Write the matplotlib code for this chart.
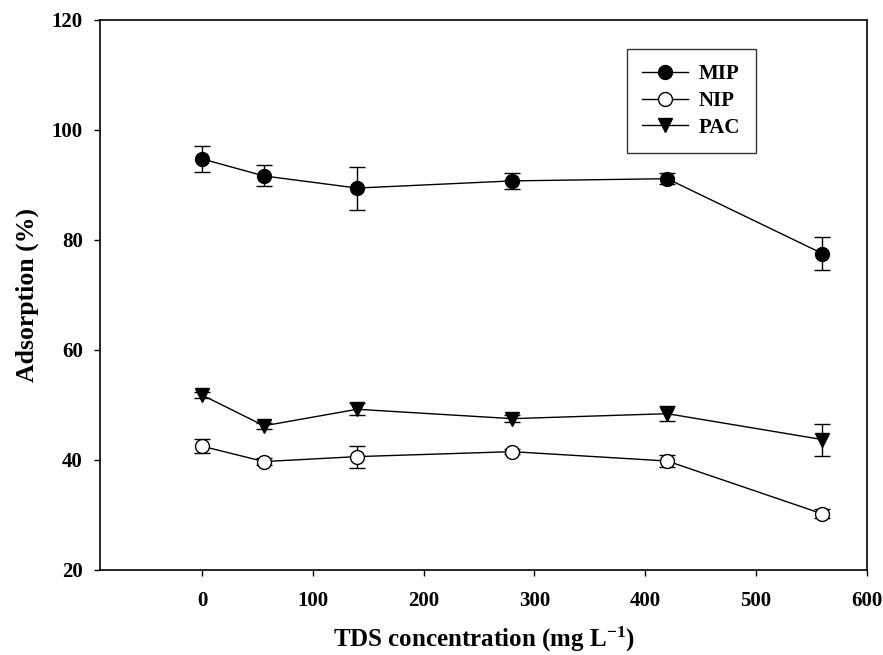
import matplotlib.pyplot as plt
from matplotlib.lines import Line2D

plt.rcParams['font.family'] = ['Liberation Serif', 'DejaVu Serif']
plt.rcParams['font.weight'] = 'bold'
plt.rcParams['mathtext.fontset'] = 'custom'
plt.rcParams['mathtext.rm'] = 'Liberation Serif:bold'
plt.rcParams['mathtext.bf'] = 'Liberation Serif:bold'
plt.rcParams['mathtext.default'] = 'bf'

tds = [0, 56, 140, 280, 420, 560]

mip = [94.7, 91.6, 89.4, 90.7, 91.1, 77.5]
mip_err = [2.3, 1.9, 3.9, 1.4, 1.0, 3.0]

nip = [42.5, 39.7, 40.6, 41.5, 39.8, 30.2]
nip_err = [1.3, 0.6, 2.0, 0.5, 1.1, 0.8]

pac = [51.8, 46.2, 49.2, 47.5, 48.4, 43.7]
pac_err = [0.5, 0.5, 1.1, 0.6, 1.4, 2.9]

fig = plt.figure(figsize=(8.83, 6.55), dpi=100)
ax = fig.add_axes([0.1133, 0.1298, 0.8682, 0.8402])

common = dict(color='black', lw=1.0, ecolor='black', elinewidth=1.0,
              capsize=6, capthick=1.0, markersize=10)
ax.errorbar(tds, mip, yerr=mip_err, fmt='-o', mfc='black', mec='black', **common)
ax.errorbar(tds, nip, yerr=nip_err, fmt='-o', mfc='white', mec='black', **common)
ax.errorbar(tds, pac, yerr=pac_err, fmt='-v', mfc='black', mec='black', **common)

ax.set_xlim(-92, 600)
ax.set_ylim(20, 120)
ax.set_xticks([0, 100, 200, 300, 400, 500, 600])
ax.set_yticks([20, 40, 60, 80, 100, 120])
ax.tick_params(direction='out', length=4, width=1, labelsize=15)
ax.tick_params(axis='x', pad=11)
ax.tick_params(axis='y', pad=8.5)
for s in ax.spines.values():
    s.set_linewidth(1.2)

ax.set_xlabel('TDS concentration (mg L$^{-1}$)', fontsize=18, fontweight='bold', labelpad=10)
ax.set_ylabel('Adsorption (%)', fontsize=18.5, fontweight='bold', labelpad=9)

handles = [
    Line2D([], [], color='black', lw=1.0, marker='o', mfc='black', mec='black', markersize=10),
    Line2D([], [], color='black', lw=1.0, marker='o', mfc='white', mec='black', markersize=10),
    Line2D([], [], color='black', lw=1.0, marker='v', mfc='black', mec='black', markersize=10),
]
leg = ax.legend(handles, ['MIP', 'NIP', 'PAC'], loc='upper left',
                bbox_to_anchor=(0.687, 0.947), fontsize=15,
                frameon=True, fancybox=False, edgecolor='black', borderpad=0.75,
                handlelength=2.2, handletextpad=0.5, labelspacing=0.32, borderaxespad=0)
leg.get_frame().set_linewidth(1.0)

fig.savefig('out.png', dpi=100)
